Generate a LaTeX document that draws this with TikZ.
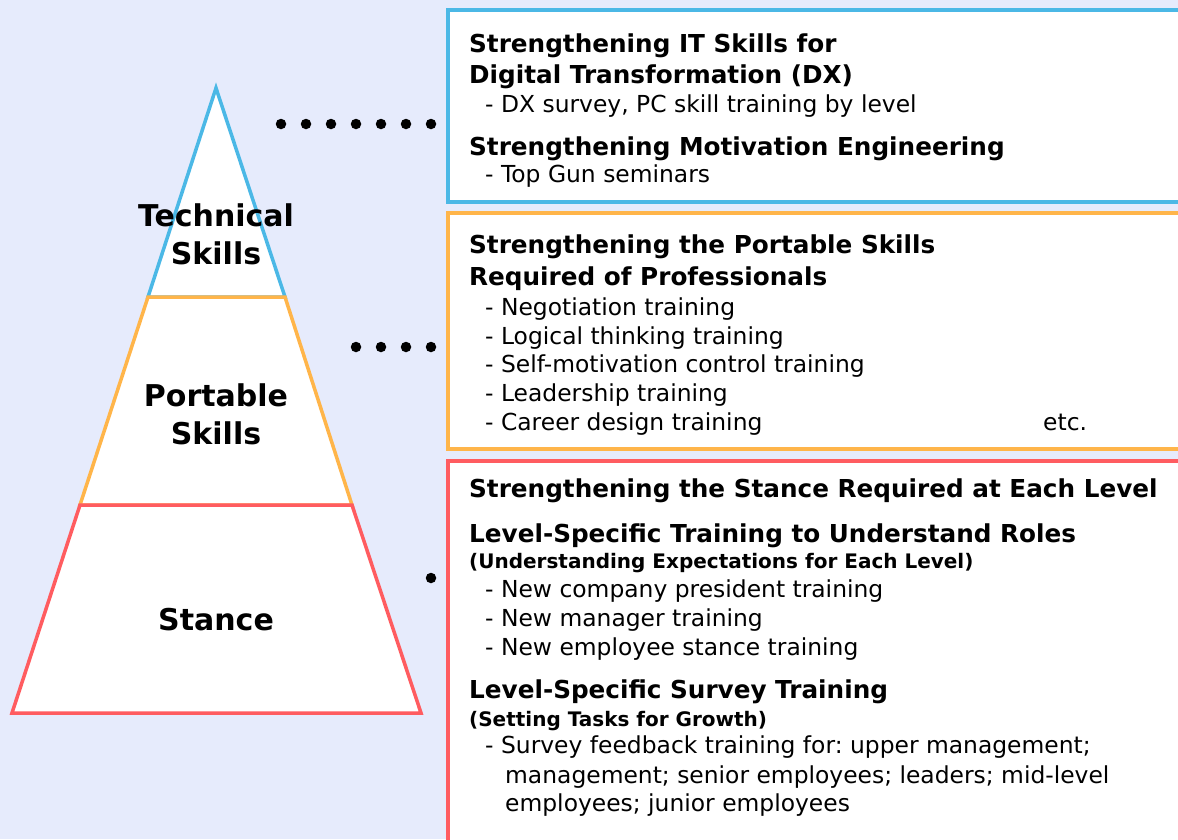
\documentclass[tikz,border=0pt]{standalone}
\usepackage{fontspec}
\setmainfont{DejaVu Sans}
\usepackage{tikz}
\usetikzlibrary{positioning}
\frenchspacing
\definecolor{paleblue}{HTML}{E6EBFC}
\definecolor{techblue}{HTML}{4BB8E6}
\definecolor{portorange}{HTML}{FFB54A}
\definecolor{stancered}{HTML}{FF5C60}
\tikzstyle{tier} = [line width=3.5pt, fill=white, line join=miter]
\tikzstyle{panel} = [line width=3.5pt, fill=white]
\tikzstyle{level} = [font=\bfseries\fontsize{30}{38}\selectfont,
    align=center]
\tikzstyle{head} = [anchor=base west, inner sep=0pt,
    font=\bfseries\fontsize{24.7}{30}\selectfont]
\tikzstyle{sub} = [anchor=base west, inner sep=0pt,
    font=\bfseries\fontsize{20}{24}\selectfont]
\tikzstyle{item} = [anchor=base west, inner sep=0pt,
    font=\fontsize{23.4}{28}\selectfont]
\tikzstyle{dot} = [circle, fill=black, inner sep=0pt, minimum size=10.5pt]

\begin{document}
\begin{tikzpicture}[x=1pt, y=-1pt]
    \fill[paleblue] (0,0) rectangle (1178,839);
    \useasboundingbox (0,0) rectangle (1178,839);

    % Pyramid
    \draw[tier, draw=techblue] (216,88) -- (285,297) -- (148,297) -- cycle;
    \draw[tier, draw=portorange] (148,297) -- (285,297) -- (352,505) -- (80,505) -- cycle;
    \draw[tier, draw=stancered] (80,505) -- (352,505) -- (421,713) -- (12,713) -- cycle;
    \node [level] (tech) at (216,234) {Technical\\Skills};
    \node [level] (port) at (216,414) {Portable\\Skills};
    \node [level] (stance) at (216,620) {Stance};

    % Leader dots
    \foreach \i in {0,...,6}
        \node [dot] (td\i) at (281+25*\i,124) {};
    \foreach \i in {0,...,3}
        \node [dot] (pd\i) at (356+25*\i,347) {};
    \node [dot] (sd0) at (431,578) {};

    % Panels
    \begin{scope}
        \clip (0,0) rectangle (1178,839);
        \draw[panel, draw=techblue] (448,10) rectangle (1200,202);
        \draw[panel, draw=portorange] (448,213) rectangle (1200,449);
        \draw[panel, draw=stancered] (448,461) rectangle (1200,860);
    \end{scope}

    % Technical skills panel
    \node [head] (it) at (469,52) {Strengthening IT Skills for};
    \node [head] (dx) at (469,83) {Digital Transformation (DX)};
    \node [item] (dxs) at (485,112) {- DX survey, PC skill training by level};
    \node [head] (mot) at (469,155) {Strengthening Motivation Engineering};
    \node [item] (gun) at (485,182) {- Top Gun seminars};

    % Portable skills panel
    \node [head] (pro) at (469,253) {Strengthening the Portable Skills};
    \node [head] (req) at (469,285) {Required of Professionals};
    \foreach \y/\t [count=\n] in {315/Negotiation training,
            344/Logical thinking training, 372/Self-motivation control training,
            401/Leadership training, 430/Career design training}
        \node [item] (pi\n) at (485,\y) {- \t};
    \node [item] (etc) at (1043,430) {etc.};

    % Stance panel
    \node [head] (sta) at (469,497) {Strengthening the Stance Required at Each Level};
    \node [head] (roles) at (469,542) {Level-Specific Training to Understand Roles};
    \node [sub] (exp) at (469,568) {(Understanding Expectations for Each Level)};
    \foreach \y/\t [count=\n] in {597/New company president training,
            626/New manager training, 655/New employee stance training}
        \node [item] (si\n) at (485,\y) {- \t};
    \node [head] (surv) at (469,698) {Level-Specific Survey Training};
    \node [sub] (grow) at (469,726) {(Setting Tasks for Growth)};
    \node [item] (fb1) at (485,753) {- Survey feedback training for: upper management;};
    \node [item] (fb2) at (505,783) {management; senior employees; leaders; mid-level};
    \node [item] (fb3) at (505,811) {employees; junior employees};
\end{tikzpicture}
\end{document}
